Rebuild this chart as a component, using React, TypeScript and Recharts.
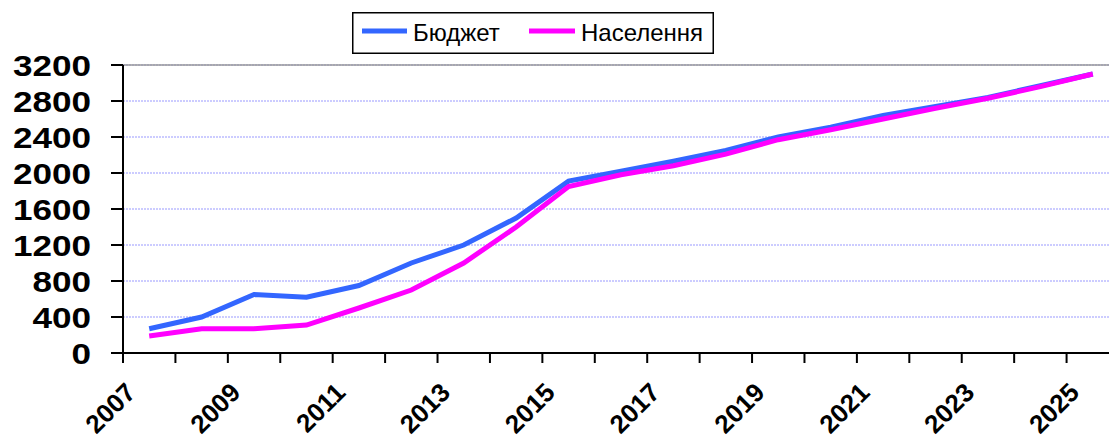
import React from 'react';
import { LineChart, Line, XAxis, YAxis, CartesianGrid, Legend, ReferenceLine } from 'recharts';

const years = ['2007','2008','2009','2010','2011','2012','2013','2014','2015','2016','2017','2018','2019','2020','2021','2022','2023','2024','2025'];
const budget = [270, 400, 650, 620, 750, 1000, 1200, 1500, 1910, 2020, 2130, 2250, 2400, 2510, 2640, 2740, 2840, 2970, 3100];
const population = [190, 270, 270, 310, 500, 700, 1000, 1400, 1850, 1980, 2080, 2210, 2370, 2480, 2600, 2720, 2830, 2960, 3100];
const yTicks = [0, 400, 800, 1200, 1600, 2000, 2400, 2800, 3200];
const seriesNames = ['Бюджет', 'Населення'];
const colors = ['#3366FF', '#FF00FF'];

const data = years.map((y, i) => ({ year: y, budget: budget[i], population: population[i] }));

const CHART_W = 1119;
const PLOT_W = 996;
const BAND = PLOT_W / years.length;

const XTick = (props: any) => {
  const { x, y, payload, index } = props;
  const half = payload && payload.offset ? payload.offset : BAND / 2;
  const idx = typeof index === 'number' ? index : years.indexOf(String(payload.value));
  const showLabel = idx % 2 === 0;
  return (
    <g>
      <line x1={x - half} x2={x - half} y1={y} y2={y + 10} stroke="#000" strokeWidth={2} />
      {idx === years.length - 1 && (
        <line x1={x + half} x2={x + half} y1={y} y2={y + 10} stroke="#000" strokeWidth={2} />
      )}
      {showLabel && (
        <text
          transform={`translate(${x - 12},${y + 41}) rotate(-45)`}
          textAnchor="end"
          fontFamily="'Liberation Sans', Arial, sans-serif"
          fontWeight="bold"
          fontSize={26}
          fill="#000"
        >
          {payload.value}
        </text>
      )}
    </g>
  );
};

const YTick = (props: any) => {
  const { x, y, payload } = props;
  return (
    <text
      transform={`translate(${x},${y + 11}) scale(1.17,1)`}
      textAnchor="end"
      fontFamily="'Liberation Sans', Arial, sans-serif"
      fontWeight="bold"
      fontSize={30}
      fill="#000"
    >
      {payload.value}
    </text>
  );
};

const LegendBox = () => (
  <svg width={362} height={42} style={{ display: 'block' }}>
    <rect x={0.75} y={0.75} width={360.5} height={40.5} fill="#fff" stroke="#000" strokeWidth={1.5} />
    <line x1={10} x2={55} y1={19} y2={19} stroke={colors[0]} strokeWidth={5} />
    <text x={61} y={28.5} fontFamily="'Liberation Sans', Arial, sans-serif" fontSize={24} fill="#000">{seriesNames[0]}</text>
    <line x1={177} x2={223} y1={19} y2={19} stroke={colors[1]} strokeWidth={5} />
    <text x={229} y={28.5} fontFamily="'Liberation Sans', Arial, sans-serif" fontSize={24} fill="#000">{seriesNames[1]}</text>
  </svg>
);

export default function App() {
  return (
    <div style={{ position: 'absolute', left: 0, top: 0, width: 1109, height: 439, overflow: 'hidden', background: '#fff' }}>
      <LineChart width={CHART_W} height={439} data={data} margin={{ top: 65, right: 0, bottom: 0, left: 0 }}>
        <CartesianGrid horizontal vertical={false} stroke="#9999FF" strokeDasharray="2 1" />
        <ReferenceLine y={3200} stroke="#999999" strokeWidth={1.5} />
        <XAxis
          dataKey="year"
          scale="band"
          interval={0}
          height={86}
          tickLine={false}
          tickSize={0}
          tickMargin={0}
          axisLine={{ stroke: '#000', strokeWidth: 2 }}
          tick={<XTick />}
        />
        <YAxis
          width={123}
          domain={[0, 3200]}
          ticks={yTicks}
          interval={0}
          tickSize={12}
          tickMargin={20}
          axisLine={{ stroke: '#000', strokeWidth: 2 }}
          tickLine={{ stroke: '#000', strokeWidth: 2 }}
          tick={<YTick />}
        />
        <Legend
          layout="vertical"
          align="center"
          verticalAlign="middle"
          wrapperStyle={{ top: 12, left: 352, width: 362, height: 42 }}
          content={() => <LegendBox />}
        />
        <Line type="linear" dataKey="budget" name={seriesNames[0]} stroke={colors[0]} strokeWidth={5} dot={false} activeDot={false} isAnimationActive={false} />
        <Line type="linear" dataKey="population" name={seriesNames[1]} stroke={colors[1]} strokeWidth={5} dot={false} activeDot={false} isAnimationActive={false} />
      </LineChart>
    </div>
  );
}
